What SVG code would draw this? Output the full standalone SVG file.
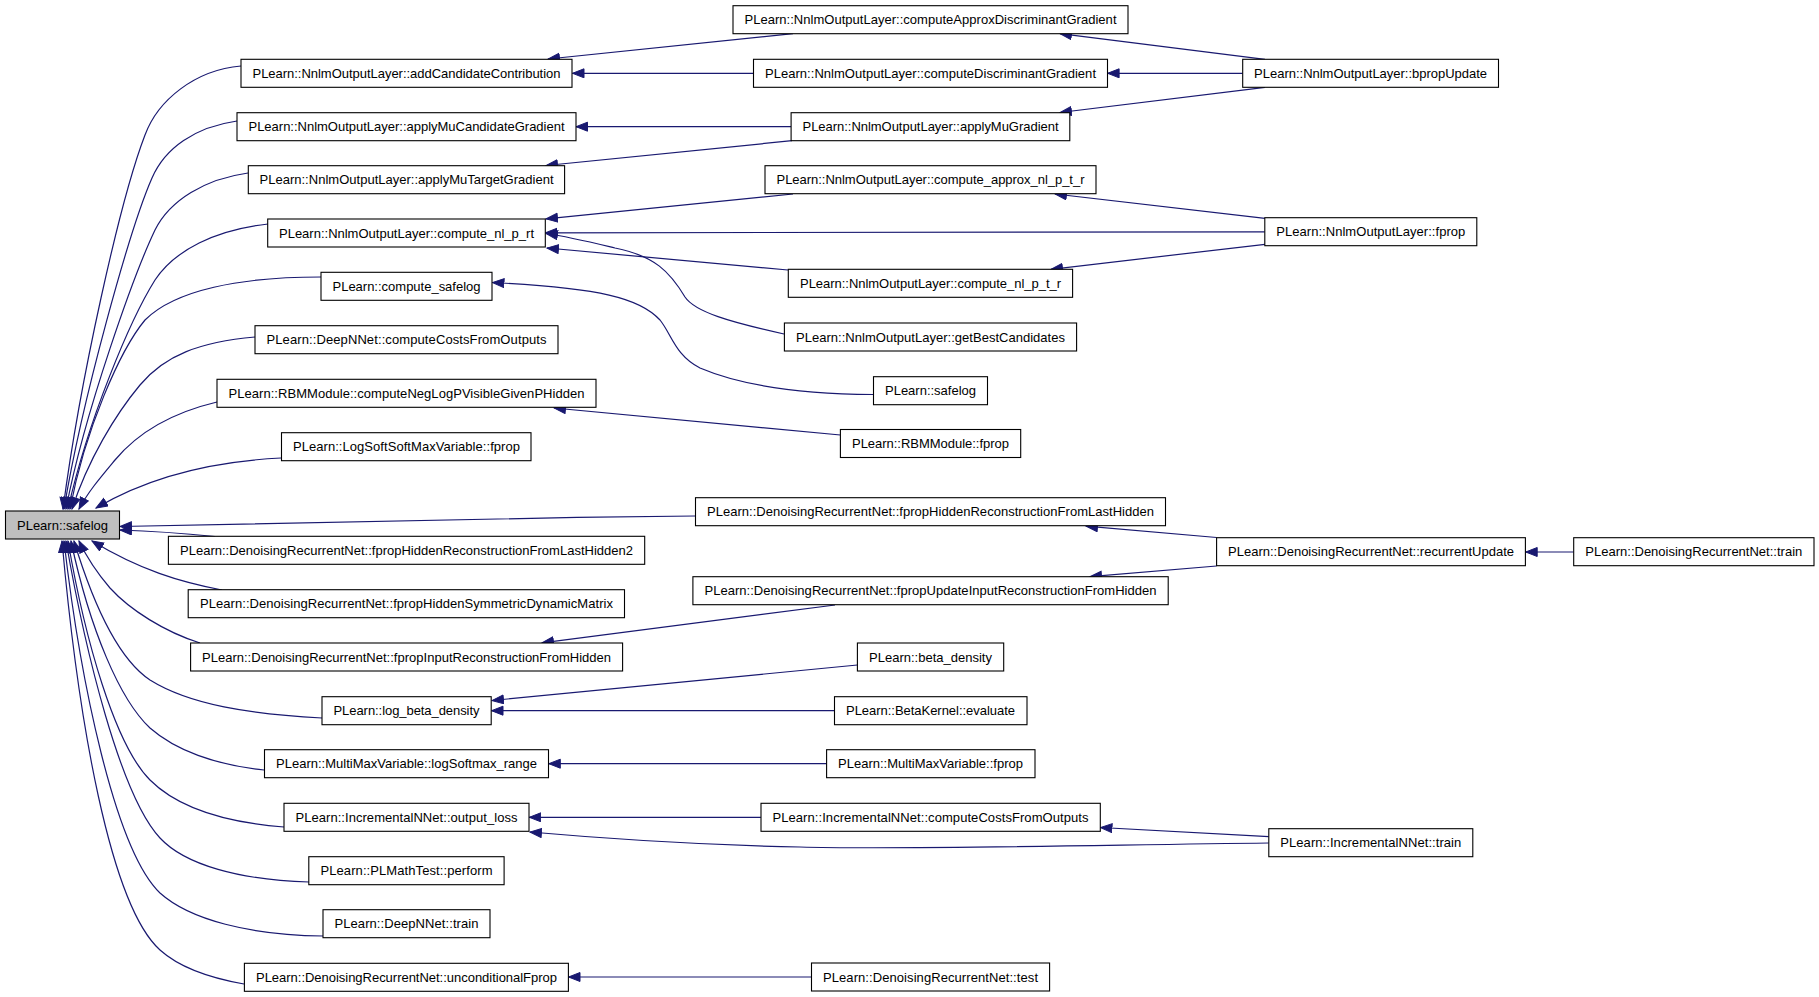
<svg xmlns="http://www.w3.org/2000/svg" width="1819" height="997" viewBox="0 0 1819 997">
<style>
.n rect{fill:#fff;stroke:#000;stroke-width:1.1}
.n.g rect{fill:#bfbfbf}
.n text{font-family:"Liberation Sans",Arial,Helvetica,sans-serif;font-size:13px;fill:#000;text-anchor:middle}
.e path{fill:none;stroke:#191970;stroke-width:1.2;marker-end:url(#ah)}
</style>
<defs>
<marker id="ah" markerWidth="15" markerHeight="12" refX="12" refY="5" orient="auto" markerUnits="userSpaceOnUse">
<path d="M0.5,0.5 L12,5 L0.5,9.5 z" fill="#191970" stroke="#191970" stroke-width="1"/>
</marker>
</defs>
<rect width="1819" height="997" fill="#fff"/>
<g id="edges" class="e">
<path d="M241,66 C195,70 158,100 145,135 C120,200 80,380 63,509"/>
<path d="M237,121 C195,127 165,148 152,178 C130,228 82,400 64,509"/>
<path d="M248,173 C205,179 170,200 155,230 C135,272 85,410 66,509"/>
<path d="M268,224 C215,230 175,250 155,280 C130,320 88,420 68,509"/>
<path d="M321,277 C240,277 175,290 145,320 C120,350 85,430 70,509"/>
<path d="M255,337 C200,342 165,355 140,385 C115,415 88,460 72,509"/>
<path d="M217,402 C175,412 140,430 115,460 C100,478 88,492 79,509"/>
<path d="M281,458 C200,462 140,482 96,508"/>
<path d="M695,516 C500,518 300,522 120,526.5"/>
<path d="M215,536.5 C180,533 150,531 120,530"/>
<path d="M222,590 C180,582 140,570 92,541"/>
<path d="M200,643 C165,632 130,610 110,588 C98,574 88,560 79,541"/>
<path d="M322,718 C250,714 190,705 150,680 C120,660 95,610 74,541"/>
<path d="M264,770 C215,765 175,750 150,728 C120,700 90,630 71,541"/>
<path d="M284,827 C220,822 175,805 150,780 C115,745 85,640 68,541"/>
<path d="M309,882 C240,880 185,865 160,838 C120,795 85,650 66,541"/>
<path d="M323,936 C250,935 190,920 160,893 C115,850 80,680 64,541"/>
<path d="M244,984 C210,978 180,968 160,950 C110,905 78,720 62,541"/>
<path d="M793,33.7 L548,59"/>
<path d="M753.4,73.3 L572.5,73.3"/>
<path d="M791,126.7 L576,126.7"/>
<path d="M792,140.7 L546,165.5"/>
<path d="M793,194 L546,218.8"/>
<path d="M1264.8,231.8 L545.5,232.8"/>
<path d="M788,270 L547,248"/>
<path d="M784,334 C730,322 695,312 685,297 C670,272 655,256 615,248 C590,242 570,237 546,233.5"/>
<path d="M873,394.5 C800,394 740,385 700,368 C675,355 672,335 660,320 C640,298 600,288 492.5,282.5"/>
<path d="M840.4,435 L554,408"/>
<path d="M835,605 L542,642.8"/>
<path d="M857.4,665 L492,700.5"/>
<path d="M834.5,710.7 L491.5,710.7"/>
<path d="M826.6,763.7 L548.8,763.7"/>
<path d="M760.9,817.3 L529.3,817.3"/>
<path d="M1268.8,843 C1100,845 900,850 800,847 C700,845 620,840 530,832"/>
<path d="M811.5,977 L568.5,977"/>
<path d="M1265,59.3 L1060,33.6"/>
<path d="M1242.7,73.3 L1107.6,73.3"/>
<path d="M1265,87.3 L1060,112.5"/>
<path d="M1265,218.3 L1055,194"/>
<path d="M1265,244.3 L1051,269.3"/>
<path d="M1216.6,537.5 L1086,526.2"/>
<path d="M1216.6,566 L1090,576.7"/>
<path d="M1268.8,836.7 L1100.5,827.5"/>
<path d="M1573.7,552 L1525.7,552"/>
</g>
<g id="n0" class="n g"><rect x="5.5" y="511" width="114" height="28"/><text x="62.5" y="529.6" textLength="91">PLearn::safelog</text></g>
<g id="a1" class="n"><rect x="241" y="59.3" width="331" height="28"/><text x="406.5" y="77.9" textLength="308">PLearn::NnlmOutputLayer::addCandidateContribution</text></g>
<g id="a2" class="n"><rect x="237" y="112.7" width="339" height="28"/><text x="406.5" y="131.3" textLength="316">PLearn::NnlmOutputLayer::applyMuCandidateGradient</text></g>
<g id="a3" class="n"><rect x="248.3" y="165.7" width="316.3" height="28"/><text x="406.5" y="184.3" textLength="294">PLearn::NnlmOutputLayer::applyMuTargetGradient</text></g>
<g id="a4" class="n"><rect x="267.7" y="219" width="277.6" height="28"/><text x="406.5" y="237.6" textLength="255">PLearn::NnlmOutputLayer::compute_nl_p_rt</text></g>
<g id="a5" class="n"><rect x="321" y="272.3" width="171" height="28"/><text x="406.5" y="290.9" textLength="148">PLearn::compute_safelog</text></g>
<g id="a6" class="n"><rect x="255" y="325.7" width="303" height="28"/><text x="406.5" y="344.3" textLength="280">PLearn::DeepNNet::computeCostsFromOutputs</text></g>
<g id="a7" class="n"><rect x="217" y="379.3" width="379" height="28"/><text x="406.5" y="397.9" textLength="356">PLearn::RBMModule::computeNegLogPVisibleGivenPHidden</text></g>
<g id="a8" class="n"><rect x="281.5" y="432.7" width="249.5" height="28"/><text x="406.5" y="451.3" textLength="227">PLearn::LogSoftSoftMaxVariable::fprop</text></g>
<g id="a10" class="n"><rect x="168.4" y="536.3" width="476.3" height="28"/><text x="406.5" y="554.9" textLength="453">PLearn::DenoisingRecurrentNet::fpropHiddenReconstructionFromLastHidden2</text></g>
<g id="a11" class="n"><rect x="188.2" y="589.7" width="436.3" height="28"/><text x="406.5" y="608.3" textLength="413">PLearn::DenoisingRecurrentNet::fpropHiddenSymmetricDynamicMatrix</text></g>
<g id="a12" class="n"><rect x="190.6" y="643" width="432" height="28"/><text x="406.5" y="661.6" textLength="409">PLearn::DenoisingRecurrentNet::fpropInputReconstructionFromHidden</text></g>
<g id="a13" class="n"><rect x="322" y="696.7" width="169.2" height="28"/><text x="406.5" y="715.3" textLength="146">PLearn::log_beta_density</text></g>
<g id="a14" class="n"><rect x="264.5" y="749.7" width="284" height="28"/><text x="406.5" y="768.3" textLength="261">PLearn::MultiMaxVariable::logSoftmax_range</text></g>
<g id="a15" class="n"><rect x="284" y="803.3" width="245" height="28"/><text x="406.5" y="821.9" textLength="222">PLearn::IncrementalNNet::output_loss</text></g>
<g id="a16" class="n"><rect x="308.8" y="856.7" width="195.3" height="28"/><text x="406.5" y="875.3" textLength="172">PLearn::PLMathTest::perform</text></g>
<g id="a17" class="n"><rect x="323" y="909.7" width="167" height="28"/><text x="406.5" y="928.3" textLength="144">PLearn::DeepNNet::train</text></g>
<g id="a18" class="n"><rect x="244.4" y="963.3" width="324" height="28"/><text x="406.5" y="981.9" textLength="301">PLearn::DenoisingRecurrentNet::unconditionalFprop</text></g>
<g id="b1" class="n"><rect x="733" y="5.7" width="395" height="28"/><text x="930.5" y="24.3" textLength="372">PLearn::NnlmOutputLayer::computeApproxDiscriminantGradient</text></g>
<g id="b2" class="n"><rect x="753.5" y="59.3" width="354" height="28"/><text x="930.5" y="77.9" textLength="331">PLearn::NnlmOutputLayer::computeDiscriminantGradient</text></g>
<g id="b3" class="n"><rect x="791.1" y="112.7" width="278.7" height="28"/><text x="930.5" y="131.3" textLength="256">PLearn::NnlmOutputLayer::applyMuGradient</text></g>
<g id="b4" class="n"><rect x="765" y="165.7" width="331" height="28"/><text x="930.5" y="184.3" textLength="308">PLearn::NnlmOutputLayer::compute_approx_nl_p_t_r</text></g>
<g id="b5" class="n"><rect x="788.3" y="269.3" width="284.3" height="28"/><text x="930.5" y="287.9" textLength="261">PLearn::NnlmOutputLayer::compute_nl_p_t_r</text></g>
<g id="b6" class="n"><rect x="784.4" y="323" width="292.2" height="28"/><text x="930.5" y="341.6" textLength="269">PLearn::NnlmOutputLayer::getBestCandidates</text></g>
<g id="b7" class="n"><rect x="873.5" y="376.7" width="114" height="28"/><text x="930.5" y="395.3" textLength="91">PLearn::safelog</text></g>
<g id="b8" class="n"><rect x="840.4" y="429.5" width="180.3" height="28"/><text x="930.5" y="448.1" textLength="157">PLearn::RBMModule::fprop</text></g>
<g id="b9" class="n"><rect x="695.5" y="497.7" width="470" height="28"/><text x="930.5" y="516.3" textLength="447">PLearn::DenoisingRecurrentNet::fpropHiddenReconstructionFromLastHidden</text></g>
<g id="b10" class="n"><rect x="692.9" y="576.7" width="475.3" height="28"/><text x="930.5" y="595.3" textLength="452">PLearn::DenoisingRecurrentNet::fpropUpdateInputReconstructionFromHidden</text></g>
<g id="b11" class="n"><rect x="857.4" y="643" width="146.3" height="28"/><text x="930.5" y="661.6" textLength="123">PLearn::beta_density</text></g>
<g id="b12" class="n"><rect x="834.5" y="696.7" width="192.5" height="28"/><text x="930.5" y="715.3" textLength="169">PLearn::BetaKernel::evaluate</text></g>
<g id="b13" class="n"><rect x="826.6" y="749.7" width="208.4" height="28"/><text x="930.5" y="768.3" textLength="185">PLearn::MultiMaxVariable::fprop</text></g>
<g id="b14" class="n"><rect x="761" y="803.3" width="339.3" height="28"/><text x="930.5" y="821.9" textLength="316">PLearn::IncrementalNNet::computeCostsFromOutputs</text></g>
<g id="b15" class="n"><rect x="811.5" y="963" width="238.1" height="28"/><text x="930.5" y="981.6" textLength="215">PLearn::DenoisingRecurrentNet::test</text></g>
<g id="c1" class="n"><rect x="1242.7" y="59.3" width="255.8" height="28"/><text x="1370.6" y="77.9" textLength="233">PLearn::NnlmOutputLayer::bpropUpdate</text></g>
<g id="c2" class="n"><rect x="1264.8" y="217.7" width="212" height="28"/><text x="1370.8" y="236.3" textLength="189">PLearn::NnlmOutputLayer::fprop</text></g>
<g id="c3" class="n"><rect x="1216.6" y="537.7" width="308.8" height="28"/><text x="1371" y="556.3" textLength="286">PLearn::DenoisingRecurrentNet::recurrentUpdate</text></g>
<g id="c4" class="n"><rect x="1268.8" y="828.7" width="204" height="28"/><text x="1370.8" y="847.3" textLength="181">PLearn::IncrementalNNet::train</text></g>
<g id="d1" class="n"><rect x="1573.7" y="537.7" width="240.3" height="28"/><text x="1693.8" y="556.3" textLength="217">PLearn::DenoisingRecurrentNet::train</text></g>
</svg>
